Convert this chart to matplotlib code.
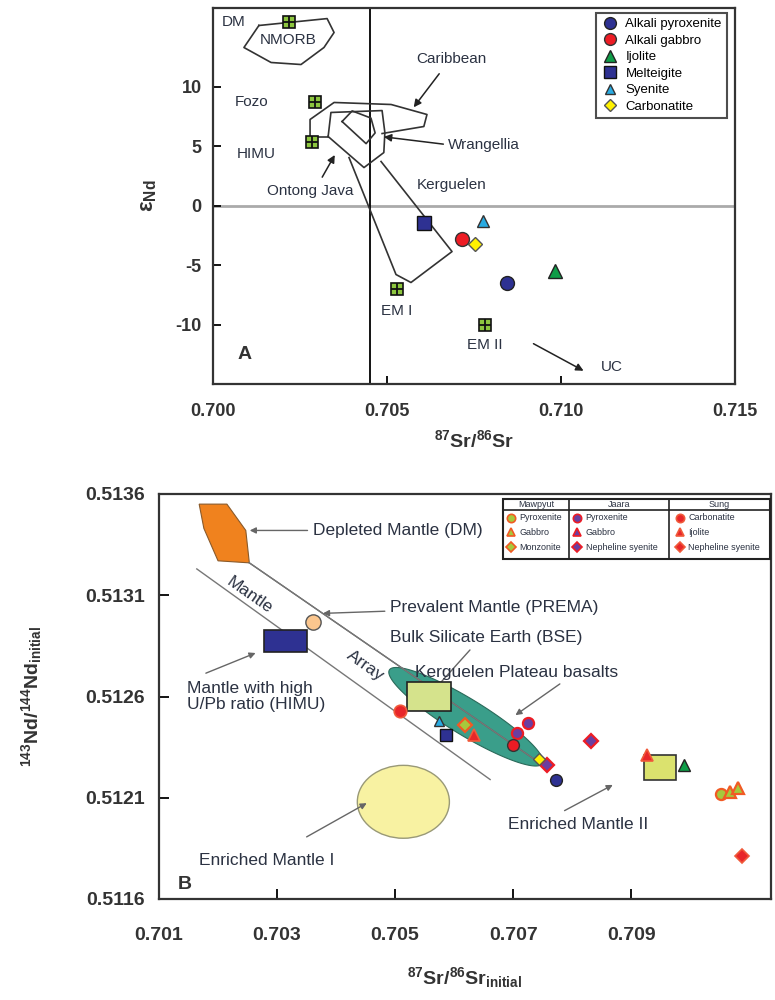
import numpy as np
import matplotlib.pyplot as plt
from matplotlib.patches import Rectangle, Ellipse, Polygon

plt.rcParams['font.family'] = ['Liberation Sans', 'DejaVu Sans']
plt.rcParams['mathtext.fontset'] = 'custom'
plt.rcParams['mathtext.rm'] = 'Liberation Sans'
plt.rcParams['mathtext.bf'] = 'Liberation Sans:bold'
plt.rcParams['mathtext.it'] = 'Liberation Sans:italic'
plt.rcParams['axes.unicode_minus'] = False

# ---------------- panel A data (87Sr/86Sr vs eNd)
groups_a = ['Alkali pyroxenite', 'Alkali gabbro', 'Ijolite', 'Melteigite', 'Syenite', 'Carbonatite']
sr_a = [0.70845, 0.70716, 0.70983, 0.70606, 0.70776, 0.70753]
nd_a = [-6.5, -2.8, -5.5, -1.5, -1.3, -3.2]

res_sr = [0.70218, 0.70293, 0.70284, 0.70529, 0.70782]
res_nd = [15.4, 8.7, 5.3, -7.0, -10.0]

nmorb_sr = [0.70132, 0.70328, 0.70348, 0.70319, 0.70253, 0.70167, 0.70089]
nmorb_nd = [15.13, 15.71, 14.54, 13.28, 11.85, 12.02, 13.28]
carib_sr = [0.70284, 0.70279, 0.70279, 0.70348, 0.70512, 0.70615, 0.70606, 0.70486]
carib_nd = [5.3, 5.55, 7.23, 8.66, 8.49, 7.65, 6.64, 6.05]
ontong_sr = [0.70331, 0.70339, 0.70486, 0.70494, 0.70491, 0.70434, 0.70331]
ontong_nd = [5.80, 7.82, 7.98, 6.13, 4.45, 3.19, 5.80]
wrang_sr = [0.70371, 0.70400, 0.70454, 0.70466, 0.70440, 0.70371]
wrang_nd = [7.06, 7.95, 7.35, 6.10, 5.20, 7.06]
kerg_sr = [0.70391, 0.70526, 0.70569, 0.70687, 0.70483]
kerg_nd = [4.03, -5.80, -6.47, -3.87, 3.70]
himu_link_sr = [0.70284, 0.70331]
himu_link_nd = [5.8, 5.8]
bse_sr = 0.7045

# ---------------- panel B data (87Sr/86Sr initial vs 143Nd/144Nd initial)
b_groups = {
    'Alkali pyroxenite': ([0.70773], [0.51219]),
    'Alkali gabbro': ([0.70700], [0.51236]),
    'Ijolite': ([0.70990], [0.51226]),
    'Melteigite': ([0.70587], [0.51241]),
    'Syenite': ([0.70575], [0.51248]),
    'Carbonatite': ([0.70744], [0.51229]),
}
maw_pyx_sr, maw_pyx_nd = [0.71053], [0.51212]
maw_gab_sr, maw_gab_nd = [0.71068, 0.71081], [0.51213, 0.51215]
maw_mon_sr, maw_mon_nd = [0.70619], [0.51246]
jaa_pyx_sr, jaa_pyx_nd = [0.70725, 0.70707], [0.51247, 0.51242]
jaa_gab_sr, jaa_gab_nd = [], []
jaa_ney_sr, jaa_ney_nd = [0.70832, 0.70758], [0.51238, 0.51226]
sung_car_sr, sung_car_nd = [0.70508], [0.51253]
sung_ijo_sr, sung_ijo_nd = [0.70927, 0.70634], [0.51231, 0.51241]
sung_ney_sr, sung_ney_nd = [0.71087], [0.51181]

dm_sr = [0.70168, 0.70215, 0.70247, 0.70253, 0.70200, 0.70176]
dm_nd = [0.51355, 0.51355, 0.51342, 0.51326, 0.51327, 0.51343]
array_up_sr, array_up_nd = [0.70253, 0.70746], [0.51326, 0.51227]
array_lo_sr, array_lo_nd = [0.70164, 0.70661], [0.51323, 0.51219]
prema = (0.70361, 0.51297)
himu_box = (0.70278, 0.51282, 0.00073, 0.00011)
bse_box = (0.70520, 0.51253, 0.00075, 0.00014)
em2_box = (0.70922, 0.51219, 0.00054, 0.00012)
em1_ell = (0.70514, 0.51208, 0.00156, 0.00036)
kp_center = (0.70620, 0.51250)
kp_a = (0.001297, -0.000231)
kp_b = (-0.000158, -0.0000764)

sty = {
    'Alkali pyroxenite': dict(marker='o', mfc='#2e3192', mec='#222222', ms=10),
    'Alkali gabbro': dict(marker='o', mfc='#ed1c24', mec='#333333', ms=10),
    'Ijolite': dict(marker='^', mfc='#0f9d48', mec='#222222', ms=10),
    'Melteigite': dict(marker='s', mfc='#2e3192', mec='#111111', ms=10),
    'Syenite': dict(marker='^', mfc='#29abe2', mec='#333333', ms=9),
    'Carbonatite': dict(marker='D', mfc='#fff200', mec='#555555', ms=7),
}
txtc = '#2b3242'

fig = plt.figure(figsize=(7.75, 10), dpi=100)

# ================= panel A
ax = fig.add_axes([0.2748, 0.616, 0.6735, 0.376])
ax.set_xlim(0.700, 0.715)
ax.set_ylim(-15, 16.6)
ax.axhline(0, color='#aaaaaa', lw=2, zorder=1)
ax.axvline(bse_sr, color='k', lw=1.3, zorder=1)
for xs, ys, closed in [(nmorb_sr, nmorb_nd, True), (carib_sr, carib_nd, False),
                       (ontong_sr, ontong_nd, False), (wrang_sr, wrang_nd, False),
                       (kerg_sr, kerg_nd, False), (himu_link_sr, himu_link_nd, False)]:
    if closed:
        xs = xs + xs[:1]
        ys = ys + ys[:1]
    ax.plot(xs, ys, color='#333333', lw=1.2, zorder=2)

ax.plot(res_sr, res_nd, ls='none', marker='s', ms=9, mfc='#8dc63f', mec='#111111', mew=1.2, zorder=4)
ax.plot(res_sr, res_nd, ls='none', marker='+', ms=9, mec='#111111', mew=1.3, zorder=5)

for g, x, y in zip(groups_a, sr_a, nd_a):
    ax.plot([x], [y], ls='none', label=g, mew=1, zorder=6, **sty[g])

fs = 11
ax.text(0.7006, 15.4, 'DM', fontsize=fs, color=txtc, ha='center', va='center')
ax.text(0.70215, 13.9, 'NMORB', fontsize=fs, color=txtc, ha='center', va='center')
ax.text(0.7011, 8.7, 'Fozo', fontsize=fs, color=txtc, ha='center', va='center')
ax.text(0.70124, 4.3, 'HIMU', fontsize=fs, color=txtc, ha='center', va='center')
ax.text(0.70279, 1.25, 'Ontong Java', fontsize=fs, color=txtc, ha='center', va='center')
ax.text(0.70684, 12.3, 'Caribbean', fontsize=fs, color=txtc, ha='center', va='center')
ax.text(0.70675, 5.1, 'Wrangellia', fontsize=fs, color=txtc, ha='left', va='center')
ax.text(0.70687, 1.7, 'Kerguelen', fontsize=fs, color=txtc, ha='center', va='center')
ax.text(0.70529, -8.9, 'EM I', fontsize=fs, color=txtc, ha='center', va='center')
ax.text(0.70782, -11.7, 'EM II', fontsize=fs, color=txtc, ha='center', va='center')
ax.text(0.71147, -13.6, 'UC', fontsize=fs, color=txtc, ha='center', va='center')
ax.text(0.7009, -12.5, 'A', fontsize=14, fontweight='bold', color='#333333', ha='center', va='center')

ap = dict(arrowstyle='-|>', color='#222222', lw=1.1, mutation_scale=11)
ax.annotate('', xy=(0.70572, 8.07), xytext=(0.70655, 11.26), arrowprops=ap)
ax.annotate('', xy=(0.70483, 5.80), xytext=(0.70670, 5.13), arrowprops=ap)
ax.annotate('', xy=(0.70354, 4.45), xytext=(0.70310, 2.18), arrowprops=ap)
ax.annotate('', xy=(0.71072, -14.0), xytext=(0.70914, -11.5), arrowprops=ap)

ax.set_xticks([0.700, 0.705, 0.710, 0.715])
ax.set_xticklabels(['0.700', '0.705', '0.710', '0.715'])
ax.set_yticks([-10, -5, 0, 5, 10])
ax.tick_params(direction='in', length=6, width=1.3, labelsize=13, pad=8)
ax.tick_params(axis='x', pad=14)
for t in ax.get_xticklabels() + ax.get_yticklabels():
    t.set_fontweight('bold')
    t.set_color('#333333')
for s in ax.spines.values():
    s.set_linewidth(1.6)
    s.set_color('#333333')
ax.set_xlabel(r'$^{\mathbf{87}}$Sr/$^{\mathbf{86}}$Sr', fontsize=14, fontweight='bold', color='#333333', labelpad=6)
ax.set_ylabel(r'ε$_{\mathbf{Nd}}$', fontsize=16, fontweight='bold', color='#333333', labelpad=12)

leg = ax.legend(loc='upper right', bbox_to_anchor=(0.985, 0.987), borderaxespad=0, fontsize=9.5,
                frameon=True, fancybox=False, edgecolor='#222222', labelspacing=0.32,
                handletextpad=0.6, borderpad=0.4, handlelength=1.2, markerscale=0.85)
leg.get_frame().set_linewidth(1.5)

# ================= panel B
bx = fig.add_axes([0.2052, 0.101, 0.7897, 0.405])
bx.set_xlim(0.701, 0.71137)
bx.set_ylim(0.5116, 0.5136)

bx.add_patch(Polygon(list(zip(dm_sr, dm_nd)), closed=True, fc='#f0821e', ec='#8a5a2a', lw=0.8, zorder=2))
bx.plot(array_up_sr, array_up_nd, color='#777777', lw=1, zorder=3)
bx.plot(array_lo_sr, array_lo_nd, color='#777777', lw=1, zorder=3)

t = np.linspace(0, 2 * np.pi, 200)
kx = kp_center[0] + kp_a[0] * np.cos(t) + kp_b[0] * np.sin(t)
ky = kp_center[1] + kp_a[1] * np.cos(t) + kp_b[1] * np.sin(t)
bx.fill(kx, ky, fc='#3a9e8a', ec='#2a6a5a', lw=0.8, zorder=1)
bx.plot(array_up_sr, array_up_nd, color='#555555', lw=0.9, zorder=2)

bx.add_patch(Ellipse(em1_ell[:2], em1_ell[2], em1_ell[3], fc='#f8f2a2', ec='#999977', lw=1, zorder=2))
bx.add_patch(Rectangle(himu_box[:2], himu_box[2], himu_box[3], fc='#2e3192', ec='#222222', lw=1.2, zorder=4))
bx.add_patch(Rectangle(bse_box[:2], bse_box[2], bse_box[3], fc='#d5e38c', ec='#222222', lw=1.2, zorder=4))
bx.add_patch(Rectangle(em2_box[:2], em2_box[2], em2_box[3], fc='#dbe26e', ec='#333333', lw=1.2, zorder=4))
bx.plot([prema[0]], [prema[1]], marker='o', ms=11, mfc='#fbc68e', mec='#555555', mew=1, zorder=5)

for g in groups_a:
    xs, ys = b_groups[g]
    st = dict(sty[g])
    st['ms'] = st['ms'] * 0.85
    bx.plot(xs, ys, ls='none', mew=1, zorder=7, **st)

maw = dict(mfc='#a6c93c', mec='#f15a24', mew=1.6, ls='none', zorder=6)
jaa = dict(mfc='#6a3ea0', mec='#ed1c24', mew=1.6, ls='none', zorder=6)
sung = dict(mfc='#e8262a', mec='#f05a3a', mew=1.2, ls='none', zorder=6)
bx.plot(maw_pyx_sr, maw_pyx_nd, marker='o', ms=8, **maw)
bx.plot(maw_gab_sr, maw_gab_nd, marker='^', ms=8, **maw)
bx.plot(maw_mon_sr, maw_mon_nd, marker='D', ms=7, **maw)
bx.plot(jaa_pyx_sr, jaa_pyx_nd, marker='o', ms=8, **jaa)
bx.plot(jaa_gab_sr, jaa_gab_nd, marker='^', ms=8, **jaa)
bx.plot(jaa_ney_sr, jaa_ney_nd, marker='D', ms=7, **jaa)
bx.plot(sung_car_sr, sung_car_nd, marker='o', ms=9, **sung)
bx.plot(sung_ijo_sr, sung_ijo_nd, marker='^', ms=9, **sung)
bx.plot(sung_ney_sr, sung_ney_nd, marker='D', ms=7, **sung)

fb = 12.5
bap = dict(arrowstyle='-|>', color='#666666', lw=1, mutation_scale=9)
bx.annotate('Depleted Mantle (DM)', xy=(0.70249, 0.51342), xytext=(0.70361, 0.51342),
            fontsize=fb, color=txtc, va='center', ha='left', arrowprops=bap)
bx.annotate('Prevalent Mantle (PREMA)', xy=(0.70373, 0.51301), xytext=(0.70492, 0.51304),
            fontsize=fb, color=txtc, va='center', ha='left', arrowprops=bap)
bx.text(0.70492, 0.51289, 'Bulk Silicate Earth (BSE)', fontsize=fb, color=txtc, va='center', ha='left')
bx.annotate('', xy=(0.70559, 0.51261), xytext=(0.70630, 0.51284), arrowprops=bap)
bx.text(0.70533, 0.51272, 'Kerguelen Plateau basalts', fontsize=fb, color=txtc, va='center', ha='left')
bx.annotate('', xy=(0.70700, 0.51250), xytext=(0.70783, 0.51267), arrowprops=bap)
bx.text(0.70147, 0.51260, 'Mantle with high\nU/Pb ratio (HIMU)', fontsize=fb, color=txtc,
        va='center', ha='left', linespacing=1.0)
bx.annotate('', xy=(0.70268, 0.51282), xytext=(0.70175, 0.51271), arrowprops=bap)
bx.text(0.70283, 0.51179, 'Enriched Mantle I', fontsize=fb, color=txtc, va='center', ha='center')
bx.annotate('', xy=(0.70456, 0.51208), xytext=(0.70346, 0.51190), arrowprops=bap)
bx.text(0.70810, 0.51197, 'Enriched Mantle II', fontsize=fb, color=txtc, va='center', ha='center')
bx.annotate('', xy=(0.70873, 0.51217), xytext=(0.70783, 0.51203), arrowprops=bap)
bx.text(0.70254, 0.51310, 'Mantle', rotation=-35, fontsize=fb, color=txtc, ha='center', va='center')
bx.text(0.70449, 0.51275, 'Array', rotation=-35, fontsize=fb, color=txtc, ha='center', va='center')
bx.text(0.70144, 0.51167, 'B', fontsize=14, fontweight='bold', color='#333333', ha='center', va='center')

# table legend of panel B
tr = bx.transAxes
bx.add_patch(Rectangle((0.562, 0.840), 0.436, 0.148, transform=tr, fc='white', ec='#222222', lw=1.5, zorder=10))
for xv in [0.670, 0.833]:
    bx.plot([xv, xv], [0.840, 0.988], transform=tr, color='#222222', lw=1.2, zorder=11)
bx.plot([0.562, 0.998], [0.960, 0.960], transform=tr, color='#222222', lw=1.2, zorder=11)
heads = ['Mawpyut', 'Jaara', 'Sung']
head_x = [0.616, 0.752, 0.915]
for h, hx in zip(heads, head_x):
    bx.text(hx, 0.974, h, transform=tr, fontsize=6.5, ha='center', va='center', color=txtc, zorder=12)
rows_y = [0.941, 0.906, 0.869]
cols = [
    (0.575, ['Pyroxenite', 'Gabbro', 'Monzonite'], maw),
    (0.683, ['Pyroxenite', 'Gabbro', 'Nepheline syenite'], jaa),
    (0.851, ['Carbonatite', 'Ijolite', 'Nepheline syenite'], sung),
]
for mx, names, st in cols:
    for ry, nm, mk in zip(rows_y, names, ['o', '^', 'D']):
        s2 = dict(st)
        s2['zorder'] = 12
        s2['mew'] = 1.2
        bx.plot([mx], [ry], marker=mk, ms=6 if mk != 'D' else 5, transform=tr, clip_on=False, **s2)
        bx.text(mx + 0.014, ry, nm, transform=tr, fontsize=6.5, ha='left', va='center', color=txtc, zorder=12)

bx.set_xticks([0.701, 0.703, 0.705, 0.707, 0.709])
bx.set_xticklabels(['0.701', '0.703', '0.705', '0.707', '0.709'])
bx.set_yticks([0.5116, 0.5121, 0.5126, 0.5131, 0.5136])
bx.set_yticklabels(['0.5116', '0.5121', '0.5126', '0.5131', '0.5136'])
bx.tick_params(direction='in', length=7, width=1.3, labelsize=14, pad=10)
bx.tick_params(axis='x', pad=20)
for t_ in bx.get_xticklabels() + bx.get_yticklabels():
    t_.set_fontweight('bold')
    t_.set_color('#333333')
for s in bx.spines.values():
    s.set_linewidth(1.6)
    s.set_color('#333333')
bx.set_xlabel(r'$^{\mathbf{87}}$Sr/$^{\mathbf{86}}$Sr$_{\mathbf{initial}}$', fontsize=14, fontweight='bold',
              color='#333333', labelpad=15)
bx.set_ylabel(r'$^{\mathbf{143}}$Nd/$^{\mathbf{144}}$Nd$_{\mathbf{initial}}$', fontsize=14, fontweight='bold',
              color='#333333', labelpad=30)

fig.savefig('out.png', dpi=100)
